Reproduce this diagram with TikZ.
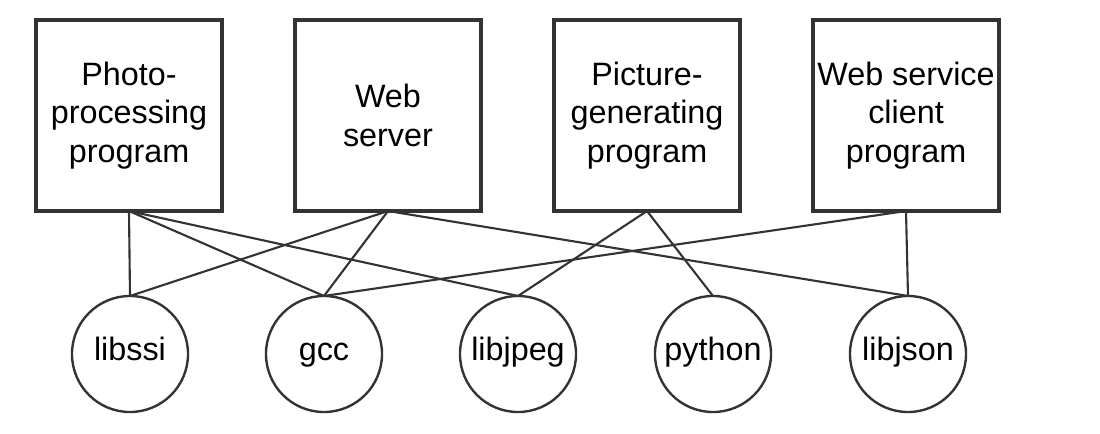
\documentclass[tikz,border=0pt]{standalone}
\usepackage{fontspec}
\setmainfont{Liberation Sans}
\usepackage{tikz}

\definecolor{linegray}{RGB}{51,51,51}

\begin{document}
\begin{tikzpicture}[x=0.025cm,y=-0.025cm,
  every node/.style={font=\fontsize{23}{27.5}\selectfont, align=center, outer sep=0pt},
  progbox/.style={draw=linegray, line width=2.2pt, minimum width=4.65cm, minimum height=4.775cm, inner sep=0pt},
  libnode/.style={draw=linegray, circle, line width=1.7pt, minimum size=2.9cm, inner sep=0pt,
    text height=0.9em, text depth=0.03em},
  dep/.style={draw=linegray, line width=1.5pt}]
\useasboundingbox (0,0) rectangle (1100,434);

% programs
\node[progbox] (photo) at (129,115.5) {Photo-\\processing\\program};
\node[progbox] (websrv) at (388,115.5) {Web\\server};
\node[progbox] (picgen) at (647,115.5) {Picture-\\generating\\program};
\node[progbox] (wsclient) at (906,115.5) {Web service\\client\\program};

% libraries
\node[libnode] (libssi) at (130,354) {libssi};
\node[libnode] (gcc) at (324,354) {gcc};
\node[libnode] (libjpeg) at (518,354) {libjpeg};
\node[libnode] (python) at (713,354) {python};
\node[libnode] (libjson) at (908,354) {libjson};

\draw[dep] (photo.south) -- (libssi.north);
\draw[dep] (photo.south) -- (gcc.north);
\draw[dep] (photo.south) -- (libjpeg.north);
\draw[dep] (websrv.south) -- (libssi.north);
\draw[dep] (websrv.south) -- (gcc.north);
\draw[dep] (websrv.south) -- (libjson.north);
\draw[dep] (picgen.south) -- (libjpeg.north);
\draw[dep] (picgen.south) -- (python.north);
\draw[dep] (wsclient.south) -- (gcc.north);
\draw[dep] (wsclient.south) -- (libjson.north);
\end{tikzpicture}
\end{document}
